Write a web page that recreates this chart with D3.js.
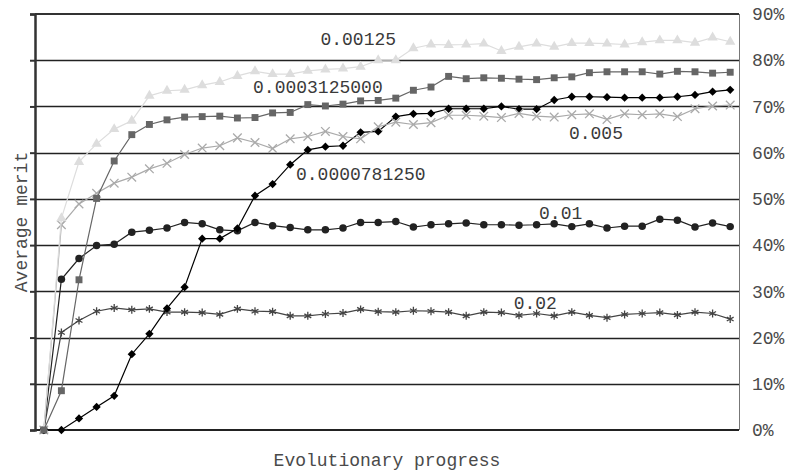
<!DOCTYPE html>
<html>
<head>
<meta charset="utf-8">
<script src="https://cdn.jsdelivr.net/npm/d3@7"></script>
<style>
  html, body { margin: 0; padding: 0; background: #fff; }
  svg { display: block; }
  text { font-family: "Liberation Mono", "DejaVu Sans Mono", monospace; }
</style>
</head>
<body>
<svg id="chart" width="786" height="475"></svg>
<script>
// Generations along the run (40 samples)
const generations = d3.range(1, 41);

// Average merit (%) for each mutation rate
const rate000125 = [0, 45.8, 58.0, 61.9, 65.1, 66.9, 72.3, 73.4, 73.6, 74.6, 75.3, 76.6, 77.6, 77.0, 77.0, 77.7, 78.0, 78.2, 78.6, 80.0,
  80.0, 82.6, 83.4, 83.3, 83.4, 83.6, 82.0, 82.9, 83.6, 82.9, 83.7, 83.7, 83.6, 83.4, 83.9, 84.3, 84.3, 83.8, 84.9, 84.0];
const rate0003125 = [0, 8.5, 32.5, 50.1, 58.2, 63.9, 66.1, 67.1, 67.7, 67.8, 67.9, 67.5, 67.6, 68.6, 68.7, 70.4, 70.1, 70.5, 71.2, 71.3,
  71.8, 73.5, 74.2, 76.5, 76.0, 76.2, 76.1, 75.9, 75.8, 76.2, 76.4, 77.3, 77.5, 77.5, 77.5, 77.0, 77.6, 77.5, 77.2, 77.4];
const rate0005 = [0, 44.4, 48.9, 51.2, 53.4, 54.7, 56.5, 57.7, 59.6, 61.0, 61.5, 63.2, 62.2, 60.9, 63.0, 63.5, 64.6, 63.5, 63.0, 65.6,
  66.6, 66.1, 66.5, 68.1, 68.1, 67.9, 67.6, 68.5, 67.9, 67.7, 68.2, 68.4, 67.2, 68.4, 68.2, 68.4, 67.8, 69.5, 70.1, 70.3];
const rate0000078125 = [0, 0, 2.5, 5.0, 7.4, 16.4, 20.8, 26.3, 30.9, 41.4, 41.4, 43.6, 50.7, 53.2, 57.4, 60.6, 61.3, 61.5, 64.4, 64.6,
  67.8, 68.4, 68.5, 69.5, 69.5, 69.5, 70.0, 69.4, 69.4, 71.4, 72.1, 72.1, 72.0, 71.9, 71.9, 71.9, 72.1, 72.5, 73.2, 73.6];
const rate001 = [0, 32.6, 37.1, 39.9, 40.2, 42.8, 43.2, 43.7, 44.9, 44.6, 43.3, 43.1, 44.9, 44.2, 43.8, 43.3, 43.3, 43.7, 44.9, 44.9,
  45.1, 43.9, 44.4, 44.6, 44.8, 44.4, 44.4, 44.3, 44.4, 44.6, 44.0, 44.6, 43.7, 44.1, 44.1, 45.6, 45.4, 43.9, 44.8, 44.0];
const rate002 = [0, 21.1, 23.7, 25.7, 26.4, 26.0, 26.2, 25.5, 25.5, 25.4, 25.0, 26.2, 25.7, 25.6, 24.7, 24.7, 25.1, 25.3, 26.1, 25.6,
  25.5, 25.8, 25.7, 25.5, 24.7, 25.5, 25.4, 24.8, 25.2, 24.7, 25.5, 24.8, 24.3, 25.0, 25.2, 25.4, 24.9, 25.5, 25.2, 24.0];

// Percent ticks on the value axis
const percentTicks = d3.range(0, 91, 10);

const svg = d3.select("#chart");
const margin = { top: 14, right: 47, bottom: 45, left: 35 };
const W = 786 - margin.left - margin.right;
const H = 475 - margin.top - margin.bottom;
const g = svg.append("g").attr("transform", `translate(${margin.left},${margin.top})`);

const x = d3.scaleBand().domain(generations).range([0, W]).padding(0);
const cx = d => x(d) + x.bandwidth() / 2;
const y = d3.scaleLinear().domain([0, 90]).range([H, 0]);

// Horizontal gridlines
g.append("g")
  .selectAll("line")
  .data(percentTicks.filter(t => t > 0 && t < 90))
  .join("line")
  .attr("x1", 0).attr("x2", W)
  .attr("y1", d => Math.round(y(d)) + 0.5).attr("y2", d => Math.round(y(d)) + 0.5)
  .attr("stroke", "#222").attr("stroke-width", 1.3);

// Plot frame: top and bottom dark, right thin
g.append("line").attr("x1", 0).attr("x2", W).attr("y1", 0).attr("y2", 0)
  .attr("stroke", "#333").attr("stroke-width", 2);
g.append("line").attr("x1", 0).attr("x2", W).attr("y1", H).attr("y2", H)
  .attr("stroke", "#222").attr("stroke-width", 2);
g.append("line").attr("x1", W + 0.5).attr("x2", W + 0.5).attr("y1", 0).attr("y2", H)
  .attr("stroke", "#777").attr("stroke-width", 1);

// Left axis: ticks only
const leftAxis = g.append("g")
  .call(d3.axisLeft(y).tickValues(percentTicks).tickSize(5).tickFormat(""));
leftAxis.select(".domain").attr("stroke", "#333").attr("stroke-width", 2.5);
leftAxis.selectAll(".tick line").attr("stroke", "#333").attr("stroke-width", 2);

// Right axis: percent labels
const rightAxis = g.append("g")
  .attr("transform", `translate(${W},0)`)
  .call(d3.axisRight(y).tickValues(percentTicks).tickSize(0).tickPadding(13).tickFormat(d => d + "%"));
rightAxis.select(".domain").remove();
rightAxis.selectAll("text").attr("font-size", 18).attr("fill", "#4a4a4a")
  .attr("font-family", "'Liberation Mono', monospace");

// Marker shapes
const sym = {
  triangle: d3.symbol().type(d3.symbolTriangle).size(46),
  square: d3.symbol().type(d3.symbolSquare).size(48),
  cross: d3.symbol().type(d3.symbolX).size(50),
  diamond: d3.symbol().type(d3.symbolDiamond2).size(44),
  circle: d3.symbol().type(d3.symbolCircle).size(44),
  asterisk: d3.symbol().type(d3.symbolAsterisk).size(44)
};

const series = [
  { name: "0.02", values: rate002, color: "#444", marker: "asterisk", stroke: true, label: [26.7, 26.2] },
  { name: "0.01", values: rate001, color: "#222", marker: "circle", stroke: false, label: [28.14, 45.65] },
  { name: "0.0000781250", values: rate0000078125, color: "#000", marker: "diamond", stroke: false, label: [14.33, 54.1] },
  { name: "0.005", values: rate0005, color: "#aaa", marker: "cross", stroke: true, label: [29.84, 62.96] },
  { name: "0.00125", values: rate000125, color: "#ddd", marker: "triangle", stroke: false, label: [15.72, 83.3] },
  { name: "0.0003125000", values: rate0003125, color: "#666", marker: "square", stroke: false, label: [11.89, 72.9] }
];

const line = d3.line().x((d, i) => cx(generations[i])).y(d => y(d));

series.forEach(s => {
  const grp = g.append("g");
  grp.append("path")
    .attr("d", line(s.values))
    .attr("fill", "none").attr("stroke", s.color).attr("stroke-width", 1.2);
  grp.selectAll("path.mark")
    .data(s.values)
    .join("path")
    .attr("class", "mark")
    .attr("transform", (d, i) => `translate(${cx(generations[i])},${y(d)})`)
    .attr("d", sym[s.marker])
    .attr("fill", s.stroke ? "none" : s.color)
    .attr("stroke", s.color)
    .attr("stroke-width", s.stroke ? 1.3 : 0);
});

// Series labels
const xi = idx => x.bandwidth() / 2 + idx * x.step();
g.append("g").selectAll("text")
  .data(series)
  .join("text")
  .attr("x", s => xi(s.label[0]))
  .attr("y", s => y(s.label[1]))
  .attr("font-size", 18)
  .attr("fill", "#3a3a3a")
  .text(s => s.name);

// Axis titles
svg.append("text")
  .attr("transform", `translate(27,${margin.top + H / 2}) rotate(-90)`)
  .attr("text-anchor", "middle")
  .attr("font-size", 18).attr("fill", "#4a4a4a")
  .text("Average merit");

svg.append("text")
  .attr("x", margin.left + W / 2).attr("y", 466)
  .attr("text-anchor", "middle")
  .attr("font-size", 18).attr("fill", "#4a4a4a")
  .text("Evolutionary progress");
</script>
</body>
</html>
